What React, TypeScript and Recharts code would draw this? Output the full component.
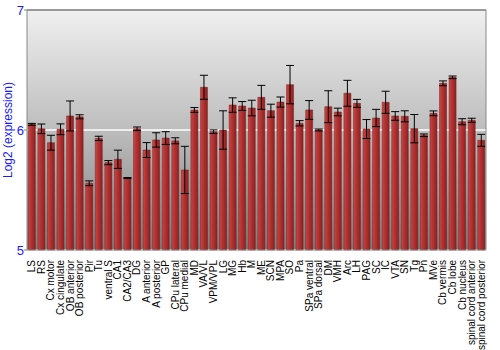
import React from 'react';
import { BarChart, Bar, XAxis, YAxis, CartesianGrid, ErrorBar, ReferenceLine } from 'recharts';

// brain regions, left to right
const regions = [
  'LS', 'RS', 'Cx motor', 'Cx cingulate', 'OB anterior', 'OB posterior', 'Pir', 'Tu',
  'ventral S', 'CA1', 'CA2/CA3', 'DG', 'A anterior', 'A posterior', 'GP', 'CPu lateral',
  'CPu medial', 'MD', 'VA/VL', 'VPM/VPL', 'LG', 'MG', 'Hb', 'M', 'ME', 'SCN', 'MPA', 'SO',
  'Pa', 'SPa ventral', 'SPa dorsal', 'DM', 'VMH', 'Arc', 'LH', 'PAG', 'SC', 'IC', 'VTA',
  'SN', 'Tg', 'Pn', 'MVe', 'Cb vermis', 'Cb lobe', 'Cb nucleus', 'spinal cord anterior',
  'spinal cord posterior',
];

// mean log2 expression
const means = [
  6.047, 6.01, 5.894, 6.006, 6.117, 6.11, 5.556, 5.93,
  5.728, 5.756, 5.6, 6.01, 5.833, 5.917, 5.933, 5.91,
  5.667, 6.167, 6.356, 5.986, 6.0, 6.208, 6.2, 6.183, 6.272, 6.161, 6.233, 6.378,
  6.056, 6.167, 6.0, 6.194, 6.15, 6.306, 6.222, 6.008, 6.1, 6.231, 6.117,
  6.114, 6.011, 5.956, 6.139, 6.389, 6.439, 6.069, 6.081,
  5.914,
];

// error (+/-)
const errors = [
  0.008, 0.04, 0.062, 0.045, 0.125, 0.017, 0.02, 0.018,
  0.017, 0.076, 0.004, 0.015, 0.062, 0.06, 0.053, 0.025,
  0.197, 0.02, 0.1, 0.015, 0.16, 0.06, 0.037, 0.065, 0.1, 0.054, 0.042, 0.16,
  0.022, 0.078, 0.008, 0.133, 0.032, 0.108, 0.033, 0.079, 0.072, 0.092, 0.036,
  0.046, 0.118, 0.011, 0.02, 0.02, 0.011, 0.025, 0.017,
  0.05,
];

const yTicks = [5, 6, 7];

const data = regions.map((name, i) => ({ name, value: means[i], err: errors[i] }));

const blue = '#1a1aff';
const font = 'Liberation Sans, Arial, sans-serif';

const XTick = (props: any) => {
  const { x, y, payload } = props;
  return (
    <text
      x={x}
      y={y + 2}
      transform={`rotate(-90, ${x}, ${y + 2})`}
      textAnchor="end"
      dominantBaseline="central"
      fontSize={10}
      fontFamily={font}
      fill="#000"
    >
      {payload.value}
    </text>
  );
};

export default function App() {
  return (
    <div style={{ position: 'absolute', left: 0, top: 0, width: 500, height: 350 }}>
      <BarChart
        width={500}
        height={350}
        data={data}
        margin={{ top: 10, right: 0, left: 0, bottom: 0 }}
        barCategoryGap="14%"
      >
        <defs>
          <linearGradient id="bg" x1="0" y1="0" x2="0" y2="1">
            <stop offset="0%" stopColor="#f0f0f0" />
            <stop offset="50%" stopColor="#bdbdbd" />
            <stop offset="100%" stopColor="#7c7c7c" />
          </linearGradient>
          <linearGradient id="barFill" x1="0" y1="0" x2="1" y2="0">
            <stop offset="0%" stopColor="#c84848" />
            <stop offset="35%" stopColor="#b83434" />
            <stop offset="100%" stopColor="#8c2222" />
          </linearGradient>
        </defs>
        <CartesianGrid fill="url(#bg)" vertical={false} stroke="#ffffff" strokeWidth={1.5} />
        <XAxis
          dataKey="name"
          interval={0}
          height={100}
          tick={<XTick />}
          tickLine={false}
          axisLine={{ stroke: '#888' }}
        />
        <YAxis
          domain={[5, 7]}
          ticks={yTicks}
          width={27}
          tickSize={3}
          tickMargin={0}
          axisLine={{ stroke: '#888' }}
          tickLine={{ stroke: '#888' }}
          tick={{ fill: blue, fontSize: 13, fontFamily: font }}
          label={{
            value: 'Log2 (expression)',
            angle: -90,
            position: 'insideLeft',
            offset: 8,
            style: { textAnchor: 'middle', fill: blue, fontSize: 12, fontFamily: font },
          }}
        />
        <YAxis
          yAxisId="r"
          orientation="right"
          domain={[5, 7]}
          ticks={yTicks}
          width={14}
          tickSize={3}
          tickMargin={1}
          axisLine={{ stroke: '#888' }}
          tickLine={{ stroke: '#888' }}
          tick={{ fill: blue, fontSize: 13, fontFamily: font }}
        />
        <ReferenceLine y={7} stroke="#777" strokeWidth={1.5} />
        <Bar dataKey="value" fill="url(#barFill)" stroke="#7a1c1c" strokeWidth={0.5} isAnimationActive={false}>
          <ErrorBar dataKey="err" width={4} stroke="#000" strokeWidth={1} direction="y" />
        </Bar>
      </BarChart>
    </div>
  );
}
